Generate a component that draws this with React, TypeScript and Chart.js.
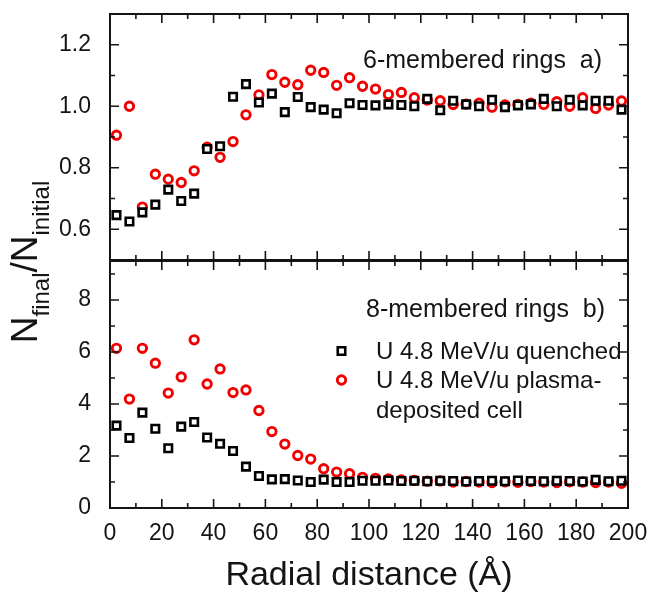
import React, { useEffect, useRef } from 'react';
import { Chart, registerables } from 'chart.js';

Chart.register(...registerables);

const RADIUS = [
  2.5, 7.5, 12.5, 17.5, 22.5, 27.5, 32.5, 37.5, 42.5, 47.5,
  52.5, 57.5, 62.5, 67.5, 72.5, 77.5, 82.5, 87.5, 92.5, 97.5,
  102.5, 107.5, 112.5, 117.5, 122.5, 127.5, 132.5, 137.5, 142.5, 147.5,
  152.5, 157.5, 162.5, 167.5, 172.5, 177.5, 182.5, 187.5, 192.5, 197.5,
];

// 6-membered rings (panel a)
const SIX_QUENCHED = [
  0.646, 0.625, 0.655, 0.68, 0.729, 0.692, 0.716, 0.861, 0.87, 1.031,
  1.072, 1.012, 1.041, 0.981, 1.03, 0.997, 0.989, 0.977, 1.01, 1.004,
  1.003, 1.006, 1.004, 1.0, 1.024, 0.987, 1.018, 1.006, 1.0, 1.021,
  0.997, 1.003, 1.006, 1.024, 1.0, 1.021, 1.003, 1.018, 1.018, 0.989,
];
const SIX_PLASMA = [
  0.906, 1.0, 0.672, 0.779, 0.763, 0.752, 0.79, 0.867, 0.834, 0.885,
  0.972, 1.037, 1.103, 1.078, 1.07, 1.117, 1.11, 1.068, 1.093, 1.065,
  1.056, 1.038, 1.045, 1.028, 1.02, 1.018, 1.006, 1.007, 1.01, 0.997,
  1.004, 1.006, 1.01, 1.006, 1.015, 1.0, 1.028, 0.993, 1.004, 1.017,
];

// 8-membered rings (panel b)
const EIGHT_QUENCHED = [
  3.17, 2.69, 3.67, 3.05, 2.3, 3.13, 3.31, 2.71, 2.47, 2.19,
  1.59, 1.23, 1.1, 1.11, 1.06, 1.0, 1.09, 1.0, 1.0, 1.05,
  1.05, 1.06, 1.04, 1.05, 1.03, 1.05, 1.04, 1.02, 1.04, 1.05,
  1.03, 1.06, 1.04, 1.03, 1.05, 1.04, 1.02, 1.08, 1.03, 1.05,
];
const EIGHT_PLASMA = [
  6.14, 4.19, 6.14, 5.57, 4.42, 5.04, 6.47, 4.77, 5.35, 4.44,
  4.54, 3.75, 2.94, 2.46, 2.02, 1.88, 1.51, 1.38, 1.32, 1.18,
  1.14, 1.12, 1.08, 1.06, 1.03, 1.04, 1.0, 1.02, 1.0, 0.98,
  1.01, 0.99, 1.02, 1.0, 0.98, 1.01, 1.0, 0.98, 1.0, 0.95,
];

const X_TICKS = [0, 20, 40, 60, 80, 100, 120, 140, 160, 180, 200];
const TOP_Y_TICKS = [0.6, 0.8, 1.0, 1.2];
const BOTTOM_Y_TICKS = [0, 2, 4, 6, 8];

const SERIES_LABELS = ['U 4.8 MeV/u quenched', 'U 4.8 MeV/u plasma-deposited cell'];
const LEGEND_LINES = ['U 4.8 MeV/u quenched', 'U 4.8 MeV/u plasma-', 'deposited cell'];
const PANEL_A_LABEL = '6-membered rings  a)';
const PANEL_B_LABEL = '8-membered rings  b)';
const X_TITLE = 'Radial distance (Å)';

const FAM = "'Liberation Sans', Arial, Helvetica, sans-serif";
const INK = '#141414';
const RED = '#f00000';

const SQ_RADIUS = 5.3;
const SQ_BORDER = 2.6;
const CI_RADIUS = 4.2;
const CI_BORDER = 2.9;

function minorTicks(majors: number[], min: number, max: number) {
  const step = majors[1] - majors[0];
  const cands = [majors[0] - step / 2, ...majors.map((m) => m + step / 2)];
  return cands.filter((c) => c > min + 1e-9 && c < max - 1e-9);
}

function drawSquare(ctx: CanvasRenderingContext2D, x: number, y: number) {
  const h = Math.SQRT1_2 * SQ_RADIUS;
  ctx.save();
  ctx.strokeStyle = '#000';
  ctx.lineWidth = SQ_BORDER;
  ctx.fillStyle = '#fff';
  ctx.beginPath();
  ctx.rect(x - h, y - h, 2 * h, 2 * h);
  ctx.fill();
  ctx.stroke();
  ctx.restore();
}
function drawCircle(ctx: CanvasRenderingContext2D, x: number, y: number) {
  ctx.save();
  ctx.strokeStyle = RED;
  ctx.lineWidth = CI_BORDER;
  ctx.beginPath();
  ctx.arc(x, y, CI_RADIUS, 0, Math.PI * 2);
  ctx.stroke();
  ctx.restore();
}

function makeFramePlugin(yMajors: number[], extra: (chart: any) => void) {
  return {
    id: 'frameTicks',
    afterDatasetsDraw(chart: any) {
      const ctx: CanvasRenderingContext2D = chart.ctx;
      const { left, right, top, bottom } = chart.chartArea;
      const xs = chart.scales.x;
      const ys = chart.scales.y;
      ctx.save();
      ctx.strokeStyle = INK;
      ctx.lineWidth = 1.6;
      const MAJ = 9;
      const MIN = 5;
      ctx.beginPath();
      const xMin = minorTicks(X_TICKS, xs.min, xs.max);
      X_TICKS.forEach((v) => {
        if (v <= xs.min || v >= xs.max) return;
        const p = xs.getPixelForValue(v);
        ctx.moveTo(p, bottom);
        ctx.lineTo(p, bottom - MAJ);
        ctx.moveTo(p, top);
        ctx.lineTo(p, top + MAJ);
      });
      xMin.forEach((v) => {
        const p = xs.getPixelForValue(v);
        ctx.moveTo(p, bottom);
        ctx.lineTo(p, bottom - MIN);
        ctx.moveTo(p, top);
        ctx.lineTo(p, top + MIN);
      });
      const yMin = minorTicks(yMajors, ys.min, ys.max);
      yMajors.forEach((v) => {
        if (v <= ys.min || v >= ys.max) return;
        const p = ys.getPixelForValue(v);
        ctx.moveTo(left, p);
        ctx.lineTo(left + MAJ, p);
        ctx.moveTo(right, p);
        ctx.lineTo(right - MAJ, p);
      });
      yMin.forEach((v) => {
        const p = ys.getPixelForValue(v);
        ctx.moveTo(left, p);
        ctx.lineTo(left + MIN, p);
        ctx.moveTo(right, p);
        ctx.lineTo(right - MIN, p);
      });
      ctx.stroke();
      ctx.lineWidth = 2;
      ctx.strokeRect(left, top, right - left, bottom - top);
      ctx.restore();
      extra(chart);
    },
  };
}

function makeOptions(
  yMin: number,
  yMax: number,
  yTicks: number[],
  fmt: (v: number) => string,
  showX: boolean,
  padTop: number,
  padBottom: number
): any {
  return {
    responsive: false,
    animation: false,
    events: [],
    layout: { padding: { left: 0, right: 24, top: padTop, bottom: padBottom } },
    plugins: { legend: { display: false }, tooltip: { enabled: false } },
    scales: {
      x: {
        type: 'linear',
        min: 0,
        max: 200,
        display: showX,
        grid: { display: false, drawTicks: false },
        border: { display: false },
        afterBuildTicks: (s: any) => {
          s.ticks = X_TICKS.map((v) => ({ value: v }));
        },
        ticks: {
          autoSkip: false,
          maxRotation: 0,
          padding: 12,
          color: INK,
          font: { family: FAM, size: 23 },
          callback: (v: any) => String(v),
        },
        title: {
          display: showX,
          text: X_TITLE,
          color: INK,
          font: { family: FAM, size: 34 },
          padding: { top: 0, bottom: 4 },
        },
        afterFit: (s: any) => {
          s.height = showX ? 92 : 0;
          s.paddingLeft = 0;
          s.paddingRight = 0;
        },
      },
      y: {
        type: 'linear',
        min: yMin,
        max: yMax,
        grid: { display: false, drawTicks: false },
        border: { display: false },
        afterBuildTicks: (s: any) => {
          s.ticks = yTicks.map((v) => ({ value: v }));
        },
        ticks: {
          autoSkip: false,
          padding: 19,
          color: INK,
          font: { family: FAM, size: 23 },
          callback: (v: any) => fmt(Number(v)),
        },
        afterFit: (s: any) => {
          s.width = 110;
          s.paddingTop = 0;
          s.paddingBottom = 0;
        },
      },
    },
  };
}

function makeDatasets(quenched: number[], plasma: number[]) {
  return [
    {
      label: SERIES_LABELS[0],
      data: RADIUS.map((x, i) => ({ x, y: quenched[i] })),
      showLine: false,
      pointStyle: 'rect',
      pointRadius: SQ_RADIUS,
      borderWidth: SQ_BORDER,
      borderColor: '#000',
      backgroundColor: '#fff',
    },
    {
      label: SERIES_LABELS[1],
      data: RADIUS.map((x, i) => ({ x, y: plasma[i] })),
      showLine: false,
      pointStyle: 'circle',
      pointRadius: CI_RADIUS,
      borderWidth: CI_BORDER,
      borderColor: RED,
      backgroundColor: 'rgba(255,255,255,0)',
    },
  ];
}

export default function App() {
  const topRef = useRef<HTMLCanvasElement>(null);
  const botRef = useRef<HTMLCanvasElement>(null);

  useEffect(() => {
    document.body.style.margin = '0';

    const topExtra = (chart: any) => {
      const ctx: CanvasRenderingContext2D = chart.ctx;
      ctx.save();
      ctx.fillStyle = INK;
      ctx.font = `25px ${FAM}`;
      ctx.textAlign = 'right';
      ctx.textBaseline = 'alphabetic';
      ctx.fillText(PANEL_A_LABEL, 602, 68);
      // y-axis title with subscripts
      ctx.translate(37, 262);
      ctx.rotate(-Math.PI / 2);
      ctx.textAlign = 'left';
      const big = `37px ${FAM}`;
      const small = `24px ${FAM}`;
      const parts: [string, string, number][] = [
        ['N', big, 0],
        ['final', small, 12],
        ['/', big, 0],
        ['N', big, 0],
        ['initial', small, 12],
      ];
      let total = 0;
      parts.forEach(([t, f]) => {
        ctx.font = f;
        total += ctx.measureText(t).width;
      });
      let x = -total / 2;
      parts.forEach(([t, f, dy]) => {
        ctx.font = f;
        ctx.fillText(t, x, dy);
        x += ctx.measureText(t).width;
      });
      ctx.restore();
    };

    const botExtra = (chart: any) => {
      const ctx: CanvasRenderingContext2D = chart.ctx;
      ctx.save();
      ctx.fillStyle = INK;
      ctx.font = `25px ${FAM}`;
      ctx.textAlign = 'right';
      ctx.fillText(PANEL_B_LABEL, 605, 317);
      ctx.textAlign = 'left';
      ctx.font = `24px ${FAM}`;
      ctx.fillText(LEGEND_LINES[0], 376, 359);
      ctx.fillText(LEGEND_LINES[1], 376, 388);
      ctx.fillText(LEGEND_LINES[2], 376, 418);
      ctx.restore();
      drawSquare(ctx, 341.5, 351);
      drawCircle(ctx, 341.5, 380);
    };

    const top = new Chart(topRef.current as HTMLCanvasElement, {
      type: 'scatter',
      data: { datasets: makeDatasets(SIX_QUENCHED, SIX_PLASMA) as any },
      options: makeOptions(0.5, 1.3, TOP_Y_TICKS, (v) => v.toFixed(1), false, 14, 340),
      plugins: [makeFramePlugin(TOP_Y_TICKS, topExtra)],
    });
    const bot = new Chart(botRef.current as HTMLCanvasElement, {
      type: 'scatter',
      data: { datasets: makeDatasets(EIGHT_QUENCHED, EIGHT_PLASMA) as any },
      options: makeOptions(0, 9.5, BOTTOM_Y_TICKS, (v) => String(v), true, 261, 0),
      plugins: [makeFramePlugin(BOTTOM_Y_TICKS, botExtra)],
    });
    return () => {
      top.destroy();
      bot.destroy();
    };
  }, []);

  const cstyle: React.CSSProperties = { position: 'absolute', left: 0, top: 0, width: 652, height: 600 };
  return (
    <div style={{ position: 'absolute', left: 0, top: 0, width: 652, height: 600, background: '#fff' }}>
      <canvas ref={botRef} width={652} height={600} style={cstyle} />
      <canvas ref={topRef} width={652} height={600} style={cstyle} />
    </div>
  );
}
